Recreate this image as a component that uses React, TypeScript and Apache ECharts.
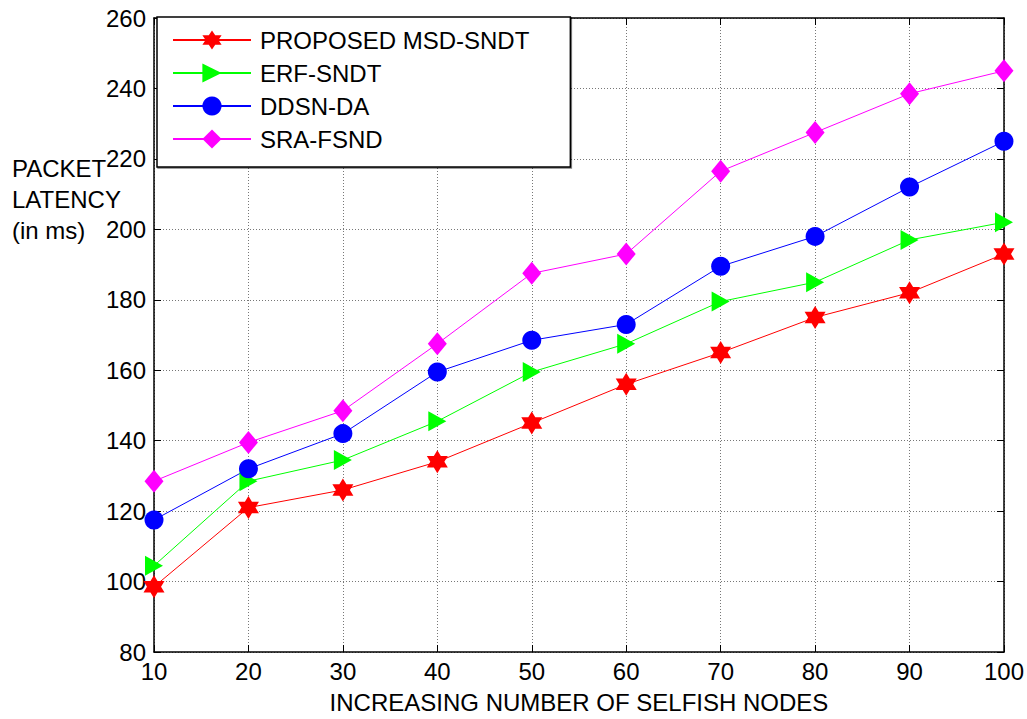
import React, { useEffect, useRef } from "react";
import * as echarts from "echarts";

const xValues = [10, 20, 30, 40, 50, 60, 70, 80, 90, 100];
const msdSndt = [98.5, 121, 126, 134, 145, 156, 165, 175, 182, 193];
const erfSndt = [104.5, 128.5, 134.5, 145.5, 159.5, 167.5, 179.5, 185, 197, 202];
const ddsnDa = [117.5, 132, 142, 159.5, 168.5, 173, 189.5, 198, 212, 225];
const sraFsnd = [128.5, 139.5, 148.5, 167.5, 187.5, 193, 216.5, 227.5, 238.5, 245];
const seriesNames = ["PROPOSED MSD-SNDT", "ERF-SNDT", "DDSN-DA", "SRA-FSND"];

const STAR =
  "path://M0,-10 L2.9,-5 L8.66,-5 L5.8,0 L8.66,5 L2.9,5 L0,10 L-2.9,5 L-8.66,5 L-5.8,0 L-8.66,-5 L-2.9,-5 Z";
const TRI = "path://M0,0 L10,5 L0,10 Z";

const FONT = "'Liberation Sans', Arial, sans-serif";

function pairs(ys: number[]) {
  return xValues.map((x, i) => [x, ys[i]]);
}

export default function App() {
  const ref = useRef<HTMLDivElement>(null);
  useEffect(() => {
    if (!ref.current) return;
    const chart = echarts.init(ref.current, undefined, { renderer: "svg" });
    const axisCommon = {
      axisLine: { show: true, lineStyle: { color: "#000", width: 1.5 } },
      axisTick: { show: true, inside: true, length: 7, lineStyle: { color: "#000", width: 1 } },
    };
    const mk = (name: string, data: number[], color: string, symbol: string, size: any) => ({
      name,
      type: "line",
      data: pairs(data),
      xAxisIndex: 0,
      yAxisIndex: 0,
      symbol,
      symbolSize: size,
      showSymbol: true,
      lineStyle: { color, width: 1 },
      itemStyle: { color },
      z: 3,
    });
    chart.setOption({
      animation: false,
      backgroundColor: "#fff",
      textStyle: { fontFamily: FONT },
      grid: { left: 154, width: 850, top: 18, height: 640, containLabel: false },
      xAxis: [
        {
          type: "value",
          min: 10,
          max: 100,
          interval: 10,
          position: "bottom",
          ...axisCommon,
          axisLabel: { color: "#000", fontSize: 24, fontFamily: FONT, margin: 7 },
          splitLine: { show: true, lineStyle: { color: "#777", type: [1, 2], width: 1 } },
          name: "INCREASING NUMBER OF SELFISH NODES",
          nameLocation: "middle",
          nameGap: 38,
          nameTextStyle: { color: "#000", fontSize: 24, fontFamily: FONT },
        },
        {
          type: "value",
          min: 10,
          max: 100,
          interval: 10,
          position: "top",
          ...axisCommon,
          axisLabel: { show: false },
          splitLine: { show: false },
        },
      ],
      yAxis: [
        {
          type: "value",
          min: 80,
          max: 260,
          interval: 20,
          position: "left",
          ...axisCommon,
          axisLabel: { color: "#000", fontSize: 24, fontFamily: FONT, margin: 8 },
          splitLine: { show: true, lineStyle: { color: "#777", type: [1, 2], width: 1 } },
        },
        {
          type: "value",
          min: 80,
          max: 260,
          interval: 20,
          position: "right",
          ...axisCommon,
          axisLabel: { show: false },
          splitLine: { show: false },
        },
      ],
      legend: {
        orient: "vertical",
        left: 157,
        top: 17,
        backgroundColor: "#fff",
        borderColor: "#000",
        borderWidth: 1.5,
        borderRadius: 0,
        shadowColor: "rgba(0,0,0,0.5)",
        shadowOffsetX: 1,
        shadowOffsetY: 1,
        padding: [11, 41, 16, 15],
        itemGap: 9,
        itemWidth: 78,
        itemHeight: 24,
        textStyle: { color: "#000", fontSize: 24, fontFamily: FONT, padding: [0, 0, 0, 4] },
        data: seriesNames,
        z: 10,
      },
      graphic: [
        {
          type: "text",
          left: 12,
          top: 153,
          style: {
            text: "PACKET\nLATENCY\n(in ms)",
            fill: "#000",
            fontSize: 24,
            lineHeight: 31,
            fontFamily: FONT,
          },
          z: 5,
        },
      ],
      series: [
        mk(seriesNames[0], msdSndt, "#ff0000", STAR, [21, 23]),
        mk(seriesNames[1], erfSndt, "#00ff00", TRI, [18, 20]),
        mk(seriesNames[2], ddsnDa, "#0000ff", "circle", 19),
        mk(seriesNames[3], sraFsnd, "#ff00ff", "diamond", [19, 23]),
      ],
    });
    return () => chart.dispose();
  }, []);
  return (
    <div
      ref={ref}
      style={{ position: "absolute", left: 0, top: 0, width: 1027, height: 719 }}
    />
  );
}
